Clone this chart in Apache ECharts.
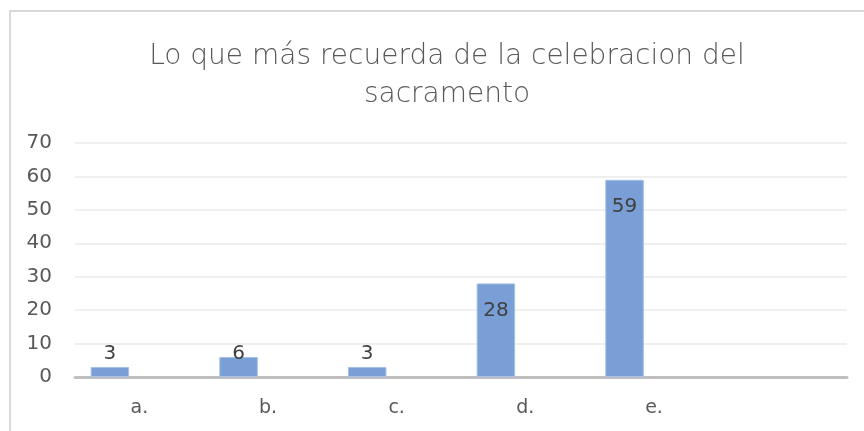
<!DOCTYPE html>
<html>
<head>
<meta charset="utf-8">
<script src="https://cdn.jsdelivr.net/npm/echarts@6/dist/echarts.min.js"></script>
<style>
  html, body { margin: 0; padding: 0; background: #fff; }
  #chart { width: 864px; height: 431px; }
</style>
</head>
<body>
<div id="chart"></div>
<script>
const categories = ['a.', 'b.', 'c.', 'd.', 'e.', ''];
const values = [3, 6, 3, 28, 59, null];
const emptyValues = [null, null, null, null, null, null];
const yTicks = { min: 0, max: 70, interval: 10 };

const chart = echarts.init(document.getElementById('chart'));
const font = 'DejaVu Sans';

// small bars get their label pushed up above the bar, tall ones inside the top
const barData = values.map(v => {
  if (v == null) return v;
  const small = v < 15;
  return {
    value: v,
    label: small
      ? { position: 'insideBottom', distance: 13 }
      : { position: 'insideTop', distance: 17 }
  };
});

chart.setOption({
  animation: false,
  title: {
    text: 'Lo que más recuerda de la celebracion del\nsacramento',
    left: 442,
    top: 33,
    textAlign: 'center',
    textStyle: {
      fontFamily: font,
      fontSize: 28,
      fontWeight: 300,
      color: '#595959',
      lineHeight: 38
    }
  },
  graphic: [{
    type: 'polyline',
    shape: { points: [[10, 431], [10, 11], [864, 11]] },
    style: { stroke: '#d9d9d9', lineWidth: 2, fill: null },
    silent: true
  }],
  grid: { left: 75, right: 17, top: 143, bottom: 54 },
  xAxis: {
    type: 'category',
    data: categories,
    axisLine: { lineStyle: { color: '#bfbfbf', width: 3 } },
    axisTick: { show: false },
    axisLabel: { fontFamily: font, fontSize: 19, color: '#595959', margin: 22 }
  },
  yAxis: {
    type: 'value',
    min: yTicks.min,
    max: yTicks.max,
    interval: yTicks.interval,
    axisLine: { show: false },
    axisTick: { show: false },
    axisLabel: { fontFamily: font, fontSize: 20, color: '#595959', margin: 23 },
    splitLine: { lineStyle: { color: '#efefef', width: 2 } }
  },
  series: [
    {
      type: 'bar',
      data: barData,
      barWidth: 38.5,
      barGap: '53%',
      itemStyle: { color: '#7a9fd6', borderColor: '#a7c0e6', borderWidth: 1 },
      label: {
        show: true,
        fontFamily: font,
        fontSize: 20,
        color: '#404040'
      }
    },
    {
      type: 'bar',
      data: emptyValues,
      barWidth: 38.5
    }
  ]
});
</script>
</body>
</html>
